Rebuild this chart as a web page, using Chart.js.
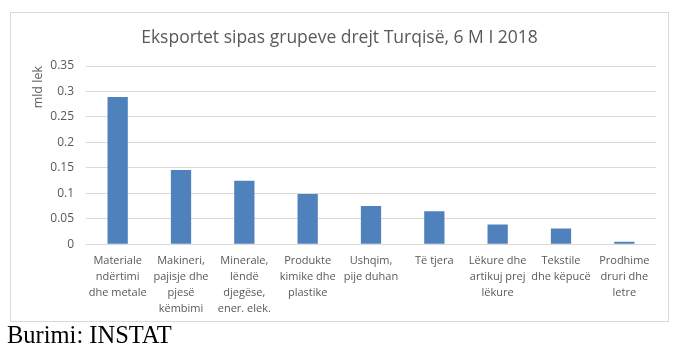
<!DOCTYPE html>
<html>
<head>
<meta charset="utf-8">
<script src="https://cdn.jsdelivr.net/npm/chart.js@4/dist/chart.umd.min.js"></script>
<style>
  html, body { margin: 0; padding: 0; background: #fff; }
  body { width: 681px; height: 351px; position: relative; overflow: hidden; }
  #box { position: absolute; left: 10px; top: 12px; width: 657px; height: 308px; border: 1px solid #d9d9d9; }
  #wrap { position: absolute; left: 0; top: 0; width: 657px; height: 312px; }
  #src { position: absolute; left: 7px; top: 321px; font-family: "Liberation Serif", "Times New Roman", serif; font-size: 24.5px; color: #000; line-height: 28px; }
</style>
</head>
<body>
<div id="box"><div id="wrap"><canvas id="c"></canvas></div></div>
<div id="src">Burimi: INSTAT</div>
<script>
const chartTitle = "Eksportet sipas grupeve drejt Turqisë, 6 M I 2018";
const yAxisTitle = "mld lek";
const categories = [
  ["Materiale", "ndërtimi", "dhe metale"],
  ["Makineri,", "pajisje dhe", "pjesë", "këmbimi"],
  ["Minerale,", "lëndë", "djegëse,", "ener. elek."],
  ["Produkte", "kimike dhe", "plastike"],
  ["Ushqim,", "pije duhan"],
  ["Të tjera"],
  ["Lëkure dhe", "artikuj prej", "lëkure"],
  ["Tekstile", "dhe këpucë"],
  ["Prodhime", "druri dhe", "letre"]
];
const exportValues = [0.289, 0.146, 0.125, 0.099, 0.075, 0.065, 0.039, 0.031, 0.005];
const yTicks = [0, 0.05, 0.1, 0.15, 0.2, 0.25, 0.3, 0.35];

const textColor = "#595959";
const gridColor = "#d9d9d9";

new Chart(document.getElementById("c"), {
  type: "bar",
  data: {
    labels: categories,
    datasets: [{
      data: exportValues,
      backgroundColor: "#4f81bd",
      borderWidth: 0,
      categoryPercentage: 1.0,
      barPercentage: 0.32
    }]
  },
  options: {
    responsive: true,
    maintainAspectRatio: false,
    animation: false,
    layout: { padding: { left: 12, right: 12, top: 0, bottom: 0 } },
    plugins: {
      legend: { display: false },
      tooltip: { enabled: false },
      title: {
        display: true,
        text: chartTitle,
        color: textColor,
        font: { family: "Open Sans", size: 17.5, weight: "normal" },
        padding: { top: 15, bottom: 17 }
      }
    },
    scales: {
      x: {
        grid: { display: false, drawTicks: false },
        border: { display: false },
        ticks: {
          color: textColor,
          font: { family: "Open Sans", size: 11, lineHeight: 1.47 },
          maxRotation: 0,
          minRotation: 0,
          autoSkip: false,
          padding: 8
        }
      },
      y: {
        min: 0,
        max: 0.35,
        afterFit: (s) => { s.width = 63; },
        afterBuildTicks: (s) => { s.ticks = yTicks.map(v => ({ value: v })); },
        grid: { color: gridColor, lineWidth: 1, drawTicks: false },
        border: { display: false },
        ticks: {
          color: textColor,
          font: { family: "Open Sans", size: 12 },
          padding: 12,
          callback: (v) => String(parseFloat(Number(v).toFixed(2)))
        },
        title: {
          display: true,
          text: yAxisTitle,
          align: "end",
          color: textColor,
          font: { family: "Open Sans", size: 12.5 },
          padding: { top: 8, bottom: 0 }
        }
      }
    }
  }
});
</script>
</body>
</html>
